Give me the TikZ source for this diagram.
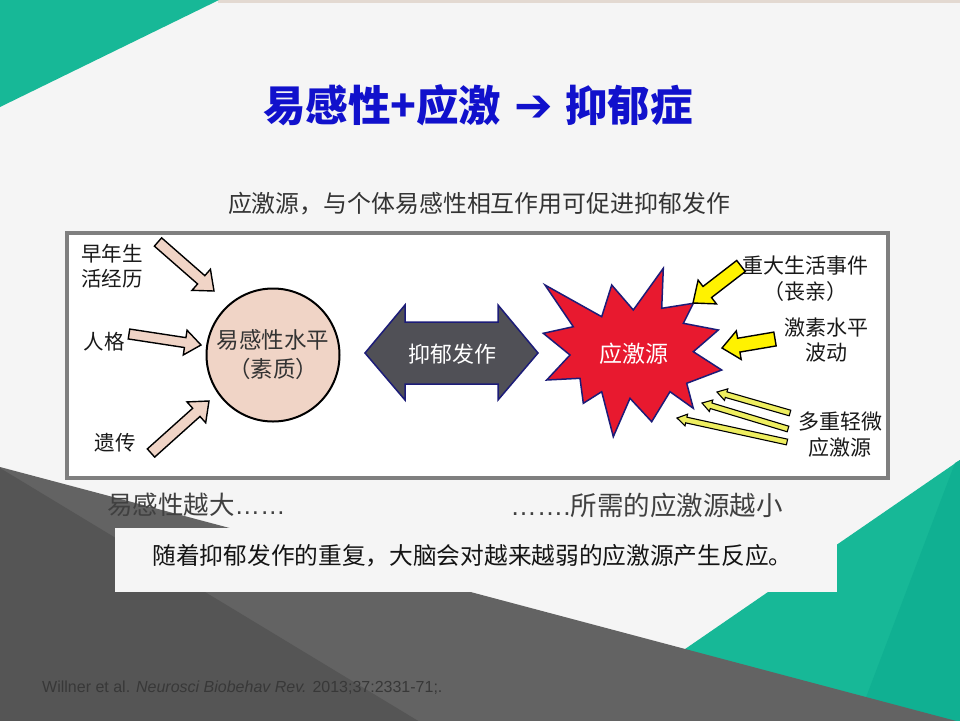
\documentclass[tikz,border=0pt]{standalone}
\usepackage{fontspec}
\setmainfont{Noto Sans CJK SC}
\newfontfamily\latf{Liberation Sans}
\newfontfamily\dvs{DejaVu Sans}
\usetikzlibrary{calc}
\definecolor{bgc}{HTML}{F5F5F5}
\definecolor{tealA}{HTML}{17B897}
\definecolor{tealB}{HTML}{10B092}
\definecolor{grayL}{HTML}{636363}
\definecolor{grayD}{HTML}{555555}
\definecolor{beige}{HTML}{E3D9D1}
\definecolor{framegray}{HTML}{7F7F7F}
\definecolor{peach}{HTML}{F0D4C6}
\definecolor{darkarr}{HTML}{505056}
\definecolor{navy}{HTML}{1C1C78}
\definecolor{starred}{HTML}{E8192F}
\definecolor{thinyel}{HTML}{EEEE60}
\definecolor{titleblue}{HTML}{1111CC}
\definecolor{subgray}{HTML}{333333}
\newcommand\blockarrow[6]{%
  \coordinate (#3n) at ($(#3)!#6pt!(#2)$);
  \draw[#1] ($(#2)!#4pt!90:(#3)$) -- ($(#3n)!#4pt!90:(#3)$) -- ($(#3n)!#5pt!90:(#3)$)
    -- (#3) -- ($(#3n)!#5pt!-90:(#3)$) -- ($(#3n)!#4pt!-90:(#3)$) -- ($(#2)!#4pt!-90:(#3)$) -- cycle;
}
\tikzset{
  txt/.style={inner sep=0pt, align=center},
  lbl/.style={txt, text=black!90, font=\fontsize{20.5}{25}\selectfont},
  peacharrow/.style={fill=peach, draw=black, line width=1.4pt},
  yelarrow/.style={fill=yellow, draw=black, line width=1.4pt},
  thinarrow/.style={fill=thinyel, draw=black, line width=1.1pt},
}
\begin{document}
\begin{tikzpicture}[x=1pt,y=-1pt]
\useasboundingbox (0,0) rectangle (960,720);
% background
\fill[bgc] (0,0) rectangle (960,720);
\fill[beige] (218,0) rectangle (960,3);
\fill[tealA] (0,0) -- (219,0) -- (0,107) -- cycle;
\fill[tealA] (960,460) -- (640,680) -- (960,722) -- cycle;
\fill[tealB] (955,463) -- (865,700) -- (960,722) -- (960,460) -- cycle;
\fill[grayL] (0,467) -- (960,722) -- (0,722) -- cycle;
\fill[grayD] (0,468) -- (420,722) -- (0,722) -- cycle;
% bottom text box
\node[fill=bgc, inner sep=0pt, minimum width=722pt, minimum height=64pt] (tbox) at (476,560) {};
% title and subtitle
\node[txt, text=titleblue, font=\fontsize{42.5}{46}\selectfont\bfseries] (title) at (478,105)
  {易感性+应激\hspace{0.3em}{\dvs\fontsize{46}{46}\selectfont ➔}\hspace{0.3em}抑郁症};
\node[txt, text=subgray, font=\fontsize{23.9}{27}\selectfont] (sub) at (479,204)
  {应激源，与个体易感性相互作用可促进抑郁发作};
% frame
\node[draw=framegray, line width=3.5pt, fill=white, inner sep=0pt,
  minimum width=821pt, minimum height=245pt] (frame) at (477.5,355.5) {};
% susceptibility circle
\node[circle, draw=black, line width=2pt, fill=peach, minimum size=133pt, inner sep=0pt,
  txt, text=black!80, font=\fontsize{22.5}{29}\selectfont] (sus) at (273,355) {易感性水平\\（素质）};
% left labels
\node[lbl, align=left] (early) at (112,266) {早年生\\活经历};
\node[lbl] (pers) at (104,342) {人格};
\node[lbl] (gene) at (115,443) {遗传};
\coordinate (p1s) at (158,242); \coordinate (p1e) at (214,291);
\coordinate (p2s) at (129,334); \coordinate (p2e) at (201,345);
\coordinate (p3s) at (151,453); \coordinate (p3e) at (209,401);
\blockarrow{peacharrow}{p1s}{p1e}{5.5}{14}{17}
\blockarrow{peacharrow}{p2s}{p2e}{5}{12.5}{16}
\blockarrow{peacharrow}{p3s}{p3e}{5.5}{14}{17}
% double arrow
\draw[fill=darkarr, draw=navy, line width=1.5pt, line join=miter]
  (365,353) -- (405,305) -- (405,322) -- (498,322) -- (498,305) -- (538,353)
  -- (498,400) -- (498,384) -- (405,384) -- (405,400) -- cycle;
\node[txt, text=white, font=\fontsize{22}{26}\selectfont] (dep) at (452,354) {抑郁发作};
% starburst
\draw[fill=starred, draw=navy, line width=1.5pt, line join=miter]
  (663.3,268.3) -- (661.7,308.3) -- (693.3,303.3) -- (683.3,323.3) -- (718.3,330)
  -- (693.3,351.7) -- (721.7,370) -- (686.7,383.3) -- (693.3,408.3) -- (670,391.7)
  -- (651.7,421.7) -- (630,398.3) -- (613.3,436.7) -- (601.7,391.7) -- (583.3,403.3)
  -- (580,378.3) -- (546.7,380) -- (570,355) -- (543.3,333.3) -- (573.3,326.7)
  -- (545,285) -- (601.7,316.7) -- (611.7,285) -- (633.3,310) -- cycle;
\node[txt, text=white, font=\fontsize{23}{26}\selectfont] (stress) at (634,354) {应激源};
% right labels
\node[lbl, font=\fontsize{21}{26}\selectfont] (life) at (805,279) {重大生活事件\\（丧亲）};
\node[lbl, font=\fontsize{21}{25}\selectfont] (horm) at (826,340) {激素水平\\波动};
\node[lbl, font=\fontsize{21}{26}\selectfont] (minor) at (840,435) {多重轻微\\应激源};
\coordinate (y1s) at (741,266); \coordinate (y1e) at (693,303);
\coordinate (y2s) at (775,339); \coordinate (y2e) at (722,348);
\blockarrow{yelarrow}{y1s}{y1e}{7}{15}{18}
\blockarrow{yelarrow}{y2s}{y2e}{7}{14.5}{17}
\coordinate (t1s) at (790,413); \coordinate (t1e) at (717,392);
\coordinate (t2s) at (788,429); \coordinate (t2e) at (702,403);
\coordinate (t3s) at (787,442); \coordinate (t3e) at (677,418);
\blockarrow{thinarrow}{t1s}{t1e}{2.9}{6}{9.5}
\blockarrow{thinarrow}{t2s}{t2e}{2.9}{6}{9.5}
\blockarrow{thinarrow}{t3s}{t3e}{2.9}{6}{9.5}
% bottom texts
\node[txt, text=black!75, font=\fontsize{25.5}{28}\selectfont, anchor=west] (more) at (107,505)
  {易感性越大{\latf ……}};
\node[txt, text=black!75, font=\fontsize{26.5}{28}\selectfont, anchor=east] (less) at (783,505)
  {{\latf …….}所需的应激源越小};
\node[txt, text=black!92, font=\fontsize{23.7}{27}\selectfont] (repeat) at (472.5,556)
  {随着抑郁发作的重复，大脑会对越来越弱的应激源产生反应。};
\node[txt, text=black!78, font=\latf\fontsize{16}{18}\selectfont, anchor=west] (cite) at (42,688)
  {Willner et al. \textit{Neurosci Biobehav Rev.} 2013;37:2331-71;.};
\end{tikzpicture}
\end{document}
